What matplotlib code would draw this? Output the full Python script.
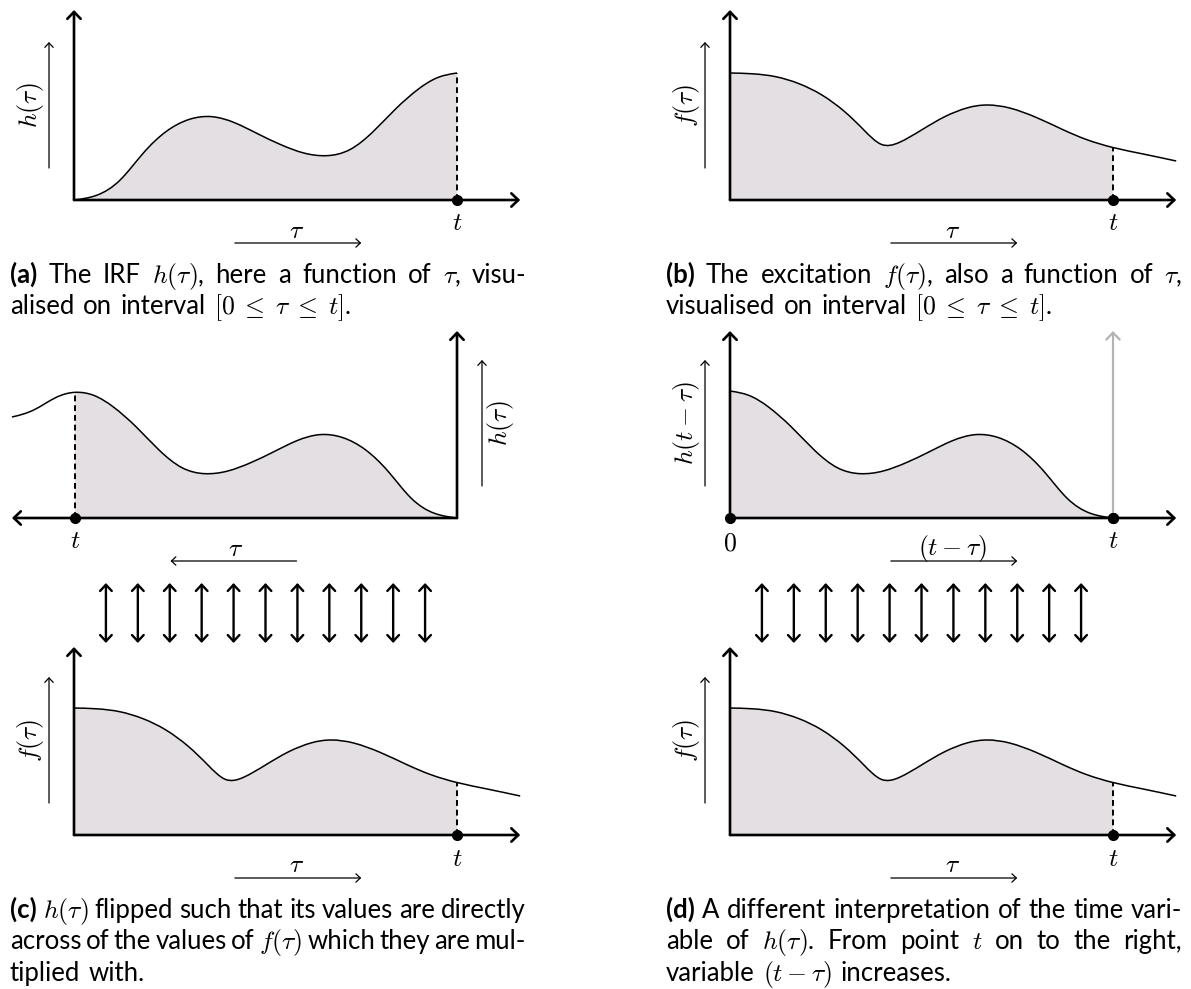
import numpy as np
import matplotlib.pyplot as plt
from matplotlib.path import Path
from matplotlib.patches import PathPatch, Rectangle
from matplotlib.transforms import offset_copy

plt.rcParams['mathtext.fontset'] = 'cm'
plt.rcParams['font.family'] = ['Lato', 'DejaVu Sans']

W, H = 1191, 989
FS = 18.5
FILL = '#e4dfe3'
GRAY = '#b3b3b3'

# ==== Curves (tau in units of t, values in pixel height) ====
h_tau = np.array([0.0, 0.06, 0.12, 0.18, 0.24, 0.30, 0.36, 0.42, 0.48, 0.54, 0.60,
                  0.66, 0.72, 0.78, 0.84, 0.90, 0.95, 1.0, 1.05, 1.11, 1.165])
h_val = np.array([0, 3, 17, 48, 70, 82, 85, 78, 66, 55, 46,
                  43, 48, 67, 92, 112, 124, 127, 122, 106, 101])

f_tau = np.array([0.0, 0.06, 0.12, 0.18, 0.24, 0.30, 0.35, 0.395, 0.44, 0.50, 0.56,
                  0.62, 0.67, 0.73, 0.80, 0.87, 0.93, 1.0, 1.08, 1.165])
f_val = np.array([127, 126.5, 124, 117, 106, 89, 70, 52, 56, 70, 84,
                  93, 96, 93, 83, 70, 60, 52, 46, 39])

t_end = 1.0          # position of t on the tau axis
ax_end = 1.165       # arrow tips of the horizontal axes
link_tau = np.arange(1, 12) / 12   # double arrows between h and f

cap_a = [r'(a) The IRF $h(\tau)$, here a function of $\tau$, visu-',
         r'alised on interval $[0\;\leq\;\tau\;\leq\;t]$.']
cap_b = [r'(b) The excitation $f(\tau)$, also a function of $\tau$,',
         r'visualised on interval $[0\;\leq\;\tau\;\leq\;t]$.']
cap_c = [r'(c) $h(\tau)$ flipped such that its values are directly',
         r'across of the values of $f(\tau)$ which they are mul-',
         r'tiplied with.']
cap_d = [r'(d) A different interpretation of the time vari-',
         r'able of $h(\tau)$.  From point $t$ on to the right,',
         r'variable $(t-\tau)$ increases.']

fig = plt.figure(figsize=(W / 100, H / 100), dpi=100)


def make_axes(left, right, base, top, flip=False):
    ax = fig.add_axes([left / W, 1 - base / H, (right - left) / W, (base - top) / H])
    ax.set_xlim((1, 0) if flip else (0, 1))
    ax.set_ylim(0, base - top)
    ax.axis('off')
    return ax


def shifted(ax, dx, dy):
    return offset_copy(ax.transData, fig=fig, x=dx, y=dy, units='dots')


def arrow(ax, p0, p1, dx=0, dy0=0, dy1=0, lw=1.9, style='->', color='black', hl=0.5, hw=0.48):
    ax.annotate('', xy=p1, xycoords=shifted(ax, dx, dy1), xytext=p0,
                textcoords=shifted(ax, dx, dy0), annotation_clip=False, zorder=3,
                arrowprops=dict(arrowstyle=f'{style},head_length={hl},head_width={hw}',
                                lw=lw, color=color, shrinkA=0, shrinkB=0, mutation_scale=10))


def curve_path(x, y):
    # smooth cubic B-spline through the read points, clamped at both ends
    pts = np.column_stack([x, y]).astype(float)
    P = np.vstack([pts[:1], pts[:1], pts, pts[-1:], pts[-1:]])
    verts, codes, knots = [pts[0]], [Path.MOVETO], [pts[0]]
    for i in range(1, len(P) - 2):
        p0, p1, p2, p3 = P[i - 1], P[i], P[i + 1], P[i + 2]
        b3 = (p1 + 4 * p2 + p3) / 6
        verts += [(2 * p1 + p2) / 3, (p1 + 2 * p2) / 3, b3]
        codes += [Path.CURVE4] * 3
        knots.append(b3)
    return verts, codes, np.array(knots)


def draw_curve(ax, x, y):
    verts, codes, knots = curve_path(x, y)
    area = PathPatch(Path(verts + [(x[-1], 0), (x[0], 0), (x[0], 0)],
                          codes + [Path.LINETO, Path.LINETO, Path.CLOSEPOLY]),
                     fc=FILL, ec='none', zorder=1)
    ax.add_patch(area)
    area.set_clip_path(Rectangle((0, -10), 1, 400, transform=ax.transData))
    ax.add_patch(PathPatch(Path(verts, codes), fill=False, ec='black', lw=1.1,
                           zorder=4, clip_on=False))
    order = np.argsort(knots[:, 0])
    return np.interp(t_end, knots[order, 0], knots[order, 1])


def txt(ax, x, y, s, dx=0, dy=0, **kw):
    ax.text(x, y, s, transform=shifted(ax, dx, dy), ha='center', va='center',
            fontsize=FS, **kw)


def panel(ax, x, y, label, side, dir_label=r'$\tau$', dash=True, t_label=True):
    top = ax.get_ylim()[1]
    y_t = draw_curve(ax, x, y)
    arrow(ax, (0, 0), (ax_end, 0))
    arrow(ax, (0, 0), (0, top))
    # label arrow next to the vertical axis
    arrow(ax, (0, 32), (0, 158), dx=25 * side, lw=0.9, hl=0.32, hw=0.3)
    txt(ax, 0, 95, label, dx=44 * side, rotation=90)
    # direction arrow below the horizontal axis
    txt(ax, 0.58, 0, dir_label, dy=-30)
    arrow(ax, (0.42, 0), (0.75, 0), dy0=-43, dy1=-43, lw=0.9, hl=0.32, hw=0.3)
    if dash:
        ax.plot([t_end, t_end], [0, y_t], color='black', lw=1.4,
                ls=(0, (3, 2)), clip_on=False, zorder=4)
    ax.plot(t_end, 0, 'o', ms=7, color='black', clip_on=False, zorder=6)
    if t_label:
        txt(ax, t_end, 0, '$t$', dy=-23)


def links(ax):
    for k in link_tau:
        arrow(ax, (k, 0), (k, 0), dy0=192, dy1=252, style='<->', lw=1.7, hl=0.45, hw=0.42)


# ==== (a) IRF h(tau) ====
ax_a = make_axes(74, 457, 200, 10)
m = h_tau <= t_end
panel(ax_a, h_tau[m], h_val[m], r'$h(\tau)$', -1)

# ==== (b) excitation f(tau) ====
ax_b = make_axes(730, 1113, 200, 10)
panel(ax_b, f_tau, f_val, r'$f(\tau)$', -1)

# ==== (c) flipped h above f ====
ax_c1 = make_axes(75, 457, 518, 331, flip=True)
panel(ax_c1, h_tau, h_val, r'$h(\tau)$', 1)
ax_c2 = make_axes(74, 457, 835, 647)
panel(ax_c2, f_tau, f_val, r'$f(\tau)$', -1)
links(ax_c2)

# ==== (d) h(t - tau) above f ====
ax_d1 = make_axes(730, 1113, 518, 331)
panel(ax_d1, (t_end - h_tau[m])[::-1], h_val[m][::-1], r'$h(t-\tau)$', -1,
      dir_label=r'$(t-\tau)$', dash=False)
arrow(ax_d1, (t_end, 0), (t_end, ax_d1.get_ylim()[1]), lw=1.6, color=GRAY)
ax_d1.plot(0, 0, 'o', ms=7, color='black', clip_on=False, zorder=6)
ax_d1.plot(t_end, 0, 'o', ms=7, color='black', clip_on=False, zorder=7)
txt(ax_d1, 0, 0, '$0$', dy=-25)
ax_d2 = make_axes(730, 1113, 835, 647)
panel(ax_d2, f_tau, f_val, r'$f(\tau)$', -1)
links(ax_d2)

# ==== Captions (justified) ====
renderer = fig.canvas.get_renderer()
SPACE = 0.33 * FS * 100 / 72


def caption(lines, x0, x1, y0, dy=31.3):
    for i, line in enumerate(lines):
        words = line.split()
        objs = [fig.text(0, 0, w, fontsize=FS, va='baseline', ha='left',
                         fontweight='bold' if (i == 0 and j == 0) else 'normal')
                for j, w in enumerate(words)]
        widths = [o.get_window_extent(renderer).width for o in objs]
        if i < len(lines) - 1:
            gap = (x1 - x0 - sum(widths)) / (len(words) - 1)
        else:
            gap = SPACE
        x = x0
        yb = y0 + i * dy
        for o, w in zip(objs, widths):
            o.set_position((x / W, 1 - yb / H))
            x += w + gap


caption(cap_a, 10, 526, 283)
caption(cap_b, 666, 1182, 283)
caption(cap_c, 10, 526, 918)
caption(cap_d, 666, 1182, 918)

fig.savefig('out.png', dpi=100)
